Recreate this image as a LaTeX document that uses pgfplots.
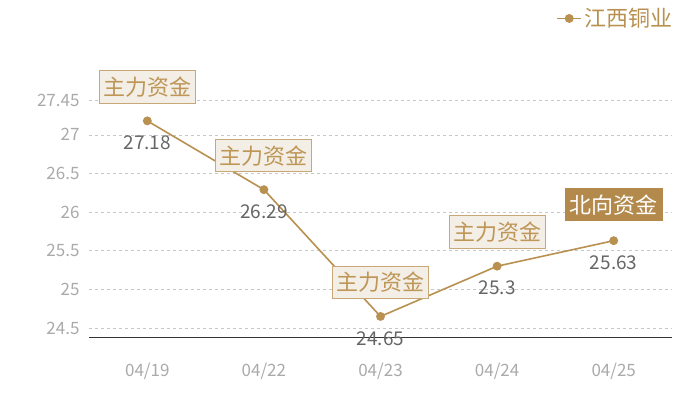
\documentclass[border=0pt]{standalone}
\usepackage{pgfplots}
\pgfplotsset{compat=1.18}
\usepackage{fontspec}
\setmainfont{Noto Sans CJK SC}
\definecolor{gold}{HTML}{B8904F}
\definecolor{boxfill}{HTML}{F3EEE6}
\definecolor{boxline}{HTML}{C9A878}
\definecolor{boxtext}{HTML}{BE9656}
\definecolor{darkbox}{HTML}{B38A4B}
\definecolor{ticktext}{HTML}{AAAAAA}
\definecolor{valtext}{HTML}{666666}
\begin{document}
\begin{tikzpicture}
\path[use as bounding box] (0,0) rectangle (700pt,400pt);
\begin{axis}[
    at={(89pt,63pt)}, anchor=south west,
    scale only axis, width=583pt, height=237pt,
    xmin=-0.5, xmax=4.5, ymin=24.384, ymax=27.45,
    clip=false,
    /pgf/number format/assume math mode=true,
    axis x line*=bottom, axis y line*=left,
    x axis line style={draw=black!80, line width=0.8pt, -},
    y axis line style={draw=none},
    major tick length=0pt,
    xtick={0,1,2,3,4},
    xticklabels={04/19,04/22,04/23,04/24,04/25},
    ytick={24.5,25,25.5,26,26.5,27,27.45},
    yticklabels={24.5,25,25.5,26,26.5,27,27.45},
    ymajorgrids,
    grid style={dashed, draw=black!22, line width=0.5pt},
    ticklabel style={text=ticktext, font=\fontsize{17}{17}\selectfont},
    xticklabel style={yshift=-22pt},
    yticklabel style={xshift=-6pt},
    legend style={at={(1.009,1.344)}, anchor=east, draw=none, fill=none,
        font=\fontsize{22}{22}\selectfont, text=gold},
    legend image code/.code={
        \draw[mark repeat=2, mark phase=2, #1]
            plot coordinates {(0pt,0pt) (12pt,0pt) (24pt,0pt)};},
]
\addplot[gold, line width=1.6pt, mark=*, mark size=3.6pt,
    nodes near coords, point meta=y,
    every node near coord/.style={anchor=center, yshift=-22pt, text=valtext,
        font=\fontsize{19}{19}\selectfont}]
    coordinates {(0,27.18) (1,26.29) (2,24.65) (3,25.3) (4,25.63)};
\addlegendentry{江西铜业}
\addplot[draw=none, mark=none, forget plot,
    nodes near coords, point meta=explicit symbolic,
    every node near coord/.style={anchor=center, yshift=34pt,
        fill=boxfill, draw=boxline, line width=1pt, text=boxtext,
        inner xsep=4pt, inner ysep=6pt,
        font=\fontsize{22}{22}\selectfont}]
    coordinates {(0,27.18) [主力资金] (1,26.29) [主力资金] (2,24.65) [主力资金] (3,25.3) [主力资金]};
\addplot[draw=none, mark=none, forget plot,
    nodes near coords, point meta=explicit symbolic,
    every node near coord/.style={anchor=center, yshift=36pt,
        fill=darkbox, draw=none, text=white,
        inner xsep=5pt, inner ysep=6pt,
        font=\fontsize{22}{22}\selectfont}]
    coordinates {(4,25.63) [北向资金]};
\end{axis}
\end{tikzpicture}
\end{document}
